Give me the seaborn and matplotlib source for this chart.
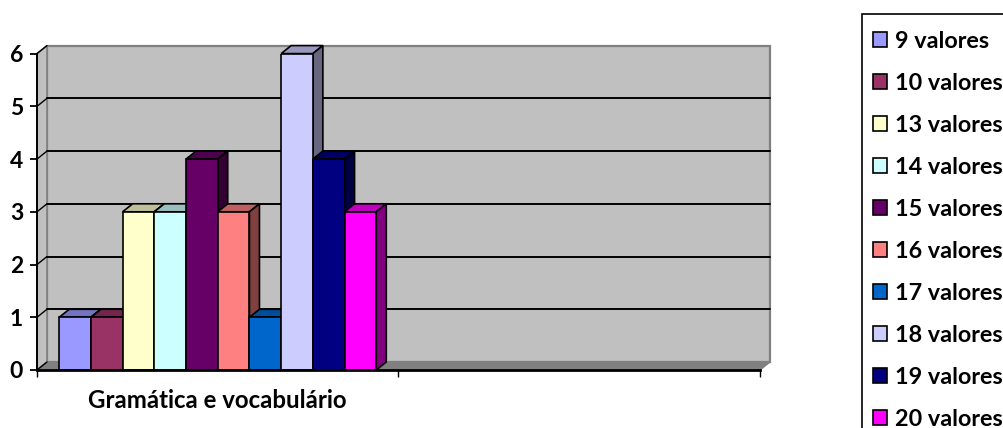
import pandas as pd
import seaborn as sns
import matplotlib.pyplot as plt
from matplotlib.patches import Polygon, Rectangle
from matplotlib.colors import to_rgb

categories = ["Gramática e vocabulário", " "]
valores = ["9 valores", "10 valores", "13 valores", "14 valores", "15 valores",
           "16 valores", "17 valores", "18 valores", "19 valores", "20 valores"]
counts = [1, 1, 3, 3, 4, 3, 1, 6, 4, 3]
colors = ["#9999FF", "#993366", "#FFFFCC", "#CCFFFF", "#660066",
          "#FF8080", "#0066CC", "#CCCCFF", "#000080", "#FF00FF"]
yticks = [0, 1, 2, 3, 4, 5, 6]

W, H = 1004, 428
sns.set_theme(style="white")
plt.rcParams["font.family"] = ["Lato", "DejaVu Sans"]
plt.rcParams["font.weight"] = "bold"
plt.rcParams["text.color"] = "black"
plt.rcParams["ytick.labelcolor"] = "black"
plt.rcParams["xtick.labelcolor"] = "black"

df = pd.DataFrame({"cat": categories[0], "valor": valores, "n": counts})

fig = plt.figure(figsize=(W / 100, H / 100), dpi=100)
# front plane of the fake 3d box, in pixels
x0, x1, y_base, y_top = 37, 760, 370, 53.6
ax = fig.add_axes([x0 / W, 1 - y_base / H, (x1 - x0) / W, (y_base - y_top) / H])
ax.patch.set_alpha(0)

sns.barplot(data=df, x="cat", y="n", hue="valor", order=categories,
            hue_order=valores, palette=colors, saturation=1, width=0.877,
            edgecolor="black", linewidth=1.2, ax=ax)
ax.set_xlim(-0.5, 1.5)
ax.set_ylim(0, 6)

# depth of the box: 10px right, 8px up, in data units
dx = 10 * 2 / (x1 - x0)
dy = 8 * 6 / (y_base - y_top)


def poly(pts, face, z, edge="black", lw=1.2):
    ax.add_patch(Polygon(pts, closed=True, facecolor=face, edgecolor=edge,
                         linewidth=lw, zorder=z, clip_on=False))


# walls and floor
poly([(-0.5 + dx, dy), (1.5 + dx, dy), (1.5 + dx, 6 + dy), (-0.5 + dx, 6 + dy)],
     "#C0C0C0", 0.1, "#808080", 1.6)
poly([(-0.5, 0), (-0.5 + dx, dy), (-0.5 + dx, 6 + dy), (-0.5, 6)],
     "#C0C0C0", 0.2, "#808080", 1.2)
poly([(-0.5, 0), (1.5, 0), (1.5 + dx, dy), (-0.5 + dx, dy)],
     "#808080", 0.2, "#808080", 1.0)

for v in yticks[1:-1]:
    ax.plot([-0.5 + dx, 1.5 + dx], [v + dy, v + dy], color="black", lw=1.4,
            zorder=0.5, clip_on=False)
for v in yticks[1:] + [0]:
    ax.plot([-0.5, -0.5 + dx], [v, v + dy], color="black", lw=1.0,
            zorder=0.6, clip_on=False)

# bar tops and sides, painted left to right so the next bar hides them
for i, cont in enumerate(ax.containers):
    bar = cont[0]
    left, w, h = bar.get_x(), bar.get_width(), bar.get_height()
    rgb = to_rgb(colors[i])
    z = 3 + i
    poly([(left, h), (left + w, h), (left + w + dx, h + dy), (left + dx, h + dy)],
         tuple(c * 0.75 for c in rgb), z)
    poly([(left + w, 0), (left + w + dx, dy), (left + w + dx, h + dy), (left + w, h)],
         tuple(c * 0.5 for c in rgb), z)
    bar.set_zorder(z + 0.5)

sns.despine(ax=ax)
for side, lw in [("left", 1.4), ("bottom", 2.0)]:
    ax.spines[side].set_linewidth(lw)
    ax.spines[side].set_color("black")
    ax.spines[side].set_zorder(30)
ax.set_xlabel("")
ax.set_ylabel("")

ax.set_yticks(yticks)
ax.tick_params(axis="y", length=5, width=1.3, color="black", pad=5,
               labelsize=16.5, left=True)
ax.set_xticks([-0.5, 0.5, 1.5], labels=["", "", ""])
ax.set_xticks([0, 1], labels=categories, minor=True)
ax.tick_params(axis="x", which="major", length=5, width=1.0, color="black", bottom=True)
ax.tick_params(axis="x", which="minor", length=0, pad=14, labelsize=17.3)

# legend box runs off the picture in the reference, so it is drawn on its own
fig.add_artist(Rectangle((862 / W, 1 - (14 + 500) / H), 200 / W, 500 / H,
                         transform=fig.transFigure, facecolor="white",
                         edgecolor="black", linewidth=1.2, zorder=-1))
handles, labels = ax.get_legend_handles_labels()
leg = ax.legend(handles, labels, loc="upper left", bbox_to_anchor=(873 / W, 1 - 31 / H),
                bbox_transform=fig.transFigure, borderaxespad=0, frameon=False,
                fontsize=16.8, handlelength=0.6, handleheight=0.6, handletextpad=0.34,
                labelspacing=0.9, borderpad=0)
leg.set_zorder(40)

fig.savefig("out.png", dpi=100)
